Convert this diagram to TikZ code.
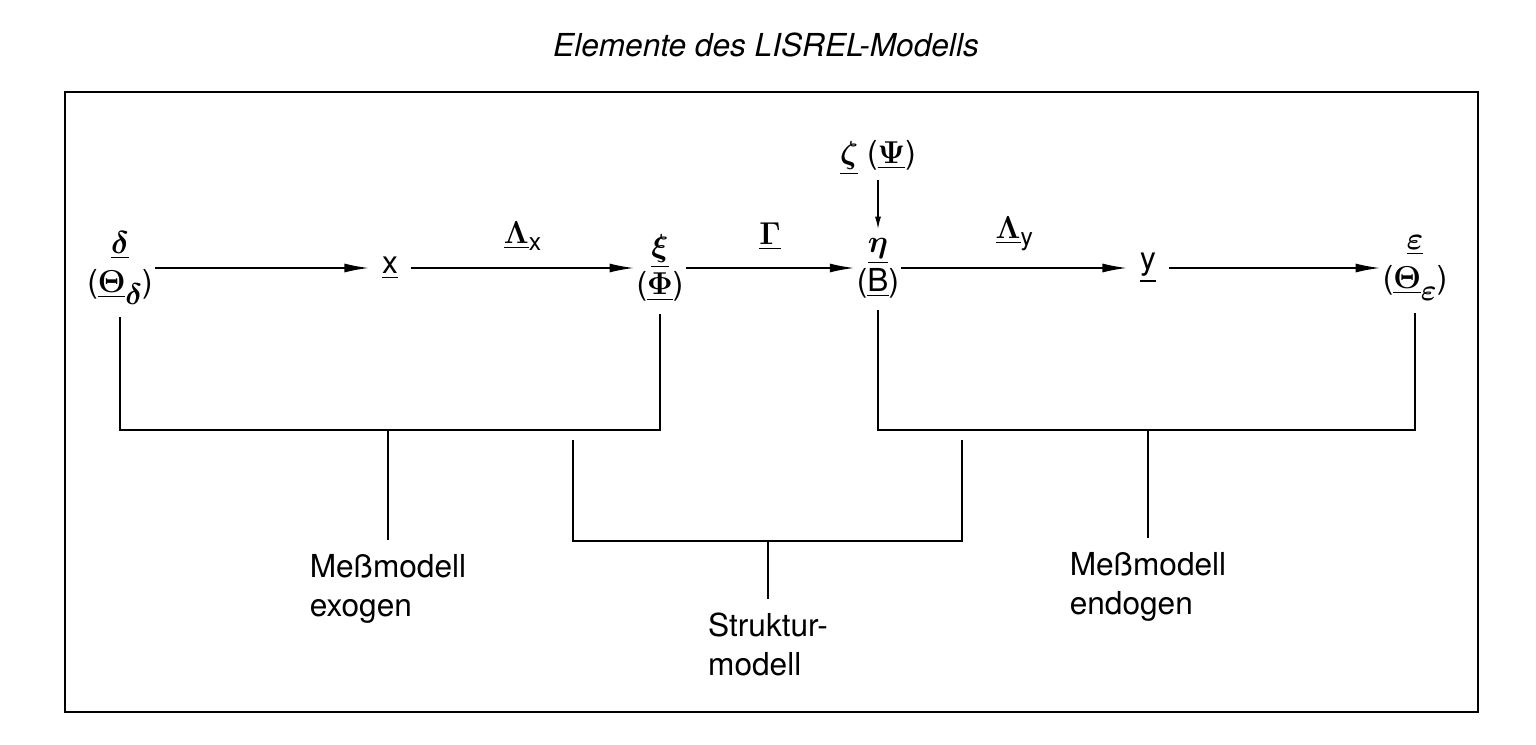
\RequirePackage{fix-cm}
\documentclass[tikz,border=0pt]{standalone}
\usepackage{amsmath}
\usepackage{fontspec}
\setmainfont{TeX Gyre Heros}
\usetikzlibrary{arrows.meta}

\newcommand{\sub}[1]{\raisebox{-4pt}{\fontsize{14}{16}\selectfont #1}}
\newcommand{\gsub}[1]{\raisebox{-7pt}{\fontsize{17}{19}\selectfont $\boldsymbol{#1}$}}

\begin{document}
\begin{tikzpicture}[
  every node/.style={font=\fontsize{18}{22}\selectfont},
  var/.style={align=center,inner sep=1pt},
  obs/.style={inner sep=7pt},
  arr/.style={line width=1.1pt,-{Latex[length=5mm,width=1.8mm]}},
  lnk/.style={line width=1.1pt},
  lab/.style={align=left,anchor=north,inner sep=0pt}]
  \useasboundingbox (0,0) rectangle (30.72,14.88);
  % title and frame
  \node (title) at (15.32,13.98) {\itshape Elemente des LISREL-Modells};
  \draw[line width=1.5pt] (1.30,0.64) rectangle (29.56,13.04);
  % variables
  \node[var] (delta) at (2.40,9.52) {\underline{$\boldsymbol{\delta}$}\\(\underline{$\boldsymbol{\Theta}$}\gsub{\delta})};
  \node[obs] (x) at (7.80,9.52) {\underline{x}};
  \node[var] (xi) at (13.20,9.52) {\underline{$\boldsymbol{\xi}$}\\(\underline{$\boldsymbol{\Phi}$})};
  \node[var] (eta) at (17.56,9.52) {\underline{$\boldsymbol{\eta}$}\\(\underline{B})};
  \node[obs] (y) at (22.96,9.52) {\underline{y}};
  \node[var] (eps) at (28.30,9.52) {\underline{$\boldsymbol{\varepsilon}$}\\(\underline{$\boldsymbol{\Theta}$}\gsub{\varepsilon})};
  \node[inner sep=2pt] (zeta) at (17.56,11.72) {\underline{$\boldsymbol{\zeta}$} (\underline{$\boldsymbol{\Psi}$})};
  % paths
  \draw[arr] (delta) -- (x);
  \draw[arr] (x) -- (xi)
    node[midway,above=6pt] {\underline{$\boldsymbol{\Lambda}$}\sub{x}};
  \draw[arr] (xi) -- (eta)
    node[midway,above=6pt] {\underline{$\boldsymbol{\Gamma}$}};
  \draw[arr] (eta) -- (y)
    node[midway,above=6pt] {\underline{$\boldsymbol{\Lambda}$}\sub{y}};
  \draw[arr] (y) -- (eps);
  \draw[line width=0.8pt,-{Latex[length=2.5mm,width=1.2mm]},shorten >=4pt] (zeta) -- (eta);
  % brackets
  \coordinate (exo) at (7.76,6.28);
  \coordinate (endo) at (22.96,6.28);
  \coordinate (strl) at (11.46,6.08);
  \coordinate (strr) at (19.24,6.08);
  \coordinate (str) at (15.36,4.06);
  \draw[lnk] ([yshift=-6pt]delta.south) |- (exo) -| ([yshift=-6pt]xi.south);
  \draw[lnk] ([yshift=-6pt]eta.south) |- (endo) -| ([yshift=-6pt]eps.south);
  \draw[lnk] (strl) |- (str) -| (strr);
  % labels
  \node[lab] (exolab) at (7.76,3.80) {Meßmodell\\exogen};
  \node[lab] (strlab) at (15.36,2.62) {Struktur-\\modell};
  \node[lab] (endolab) at (22.96,3.84) {Meßmodell\\endogen};
  \draw[lnk] (exo) -- ([yshift=8pt]exolab.north);
  \draw[lnk] (str) -- ([yshift=8pt]strlab.north);
  \draw[lnk] (endo) -- ([yshift=8pt]endolab.north);
\end{tikzpicture}
\end{document}
